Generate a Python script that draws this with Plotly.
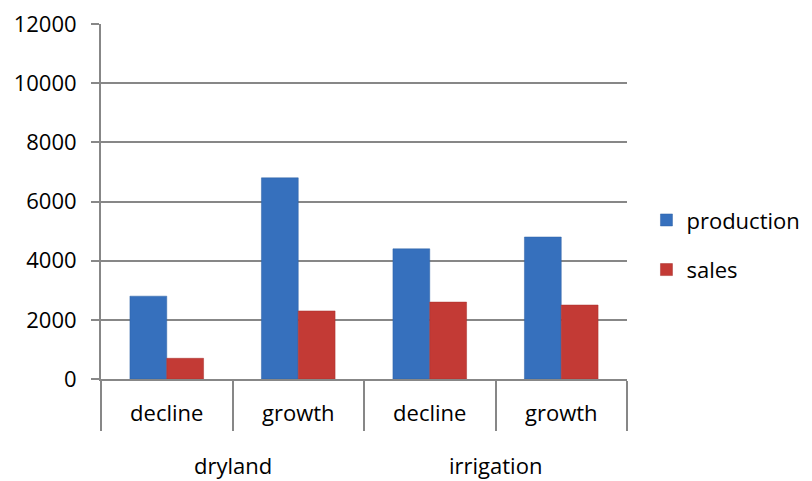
import plotly.graph_objects as go

# Data
regions = ["dryland", "dryland", "irrigation", "irrigation"]
trends = ["decline", "growth", "decline", "growth"]
production = [2800, 6800, 4400, 4800]
sales = [700, 2300, 2600, 2500]

y_ticks = [0, 2000, 4000, 6000, 8000, 10000, 12000]

# category positions along x, boundaries between them, and region group centres
pos = list(range(len(trends)))
boundaries = [p - 0.5 for p in pos] + [pos[-1] + 0.5]
group_names = list(dict.fromkeys(regions))
group_centres = [
    sum(p for p, r in zip(pos, regions) if r == g) / regions.count(g)
    for g in group_names
]

FONT = "'Open Sans', sans-serif"
GRID = "#878787"
FS = 22

fig = go.Figure()
fig.add_trace(go.Bar(
    x=pos, y=production, name="production",
    marker=dict(color="#3670bd", line=dict(color="#2f62a6", width=0.5)),
    legendgroup="p",
))
fig.add_trace(go.Bar(
    x=pos, y=sales, name="sales",
    marker=dict(color="#c33a35", line=dict(color="#a8302c", width=0.5)),
    legendgroup="s",
))

# outer (region) labels beneath the category labels
for name, c in zip(group_names, group_centres):
    fig.add_annotation(
        x=c, xref="x", y=0, yref="paper", yshift=-86,
        text=name, showarrow=False, yanchor="middle",
        font=dict(size=FS, family=FONT, color="#000000"),
    )

fig.update_layout(
    width=812, height=481,
    margin=dict(l=101, r=185, t=24, b=102, autoexpand=False),
    paper_bgcolor="white", plot_bgcolor="white",
    barmode="group", bargap=0.44, bargroupgap=0,
    font=dict(family=FONT, size=FS, color="#000000"),
    legend=dict(
        x=1.037, y=0.377, xanchor="left", yanchor="middle",
        font=dict(size=FS), traceorder="grouped", tracegroupgap=18,
        itemwidth=30,
    ),
    yaxis=dict(
        range=[0, 12000], tickvals=y_ticks, tickformat="d",
        showgrid=True, gridcolor=GRID, gridwidth=2,
        showline=True, linecolor=GRID, linewidth=2,
        ticks="outside", ticklen=8, tickcolor=GRID, tickwidth=2,
        ticklabelstandoff=10,
        zeroline=False, tickfont=dict(size=FS), automargin=False,
    ),
    xaxis=dict(
        range=[boundaries[0], boundaries[-1]],
        tickvals=pos, ticktext=trends,
        showline=True, linecolor=GRID, linewidth=2,
        showgrid=False, zeroline=False,
        ticks="", ticklabelstandoff=14,
        minor=dict(tickvals=boundaries, ticks="outside", ticklen=50,
                   tickcolor=GRID, tickwidth=2, showgrid=False),
        tickfont=dict(size=FS), automargin=False,
    ),
)

fig.write_html("out.html")
